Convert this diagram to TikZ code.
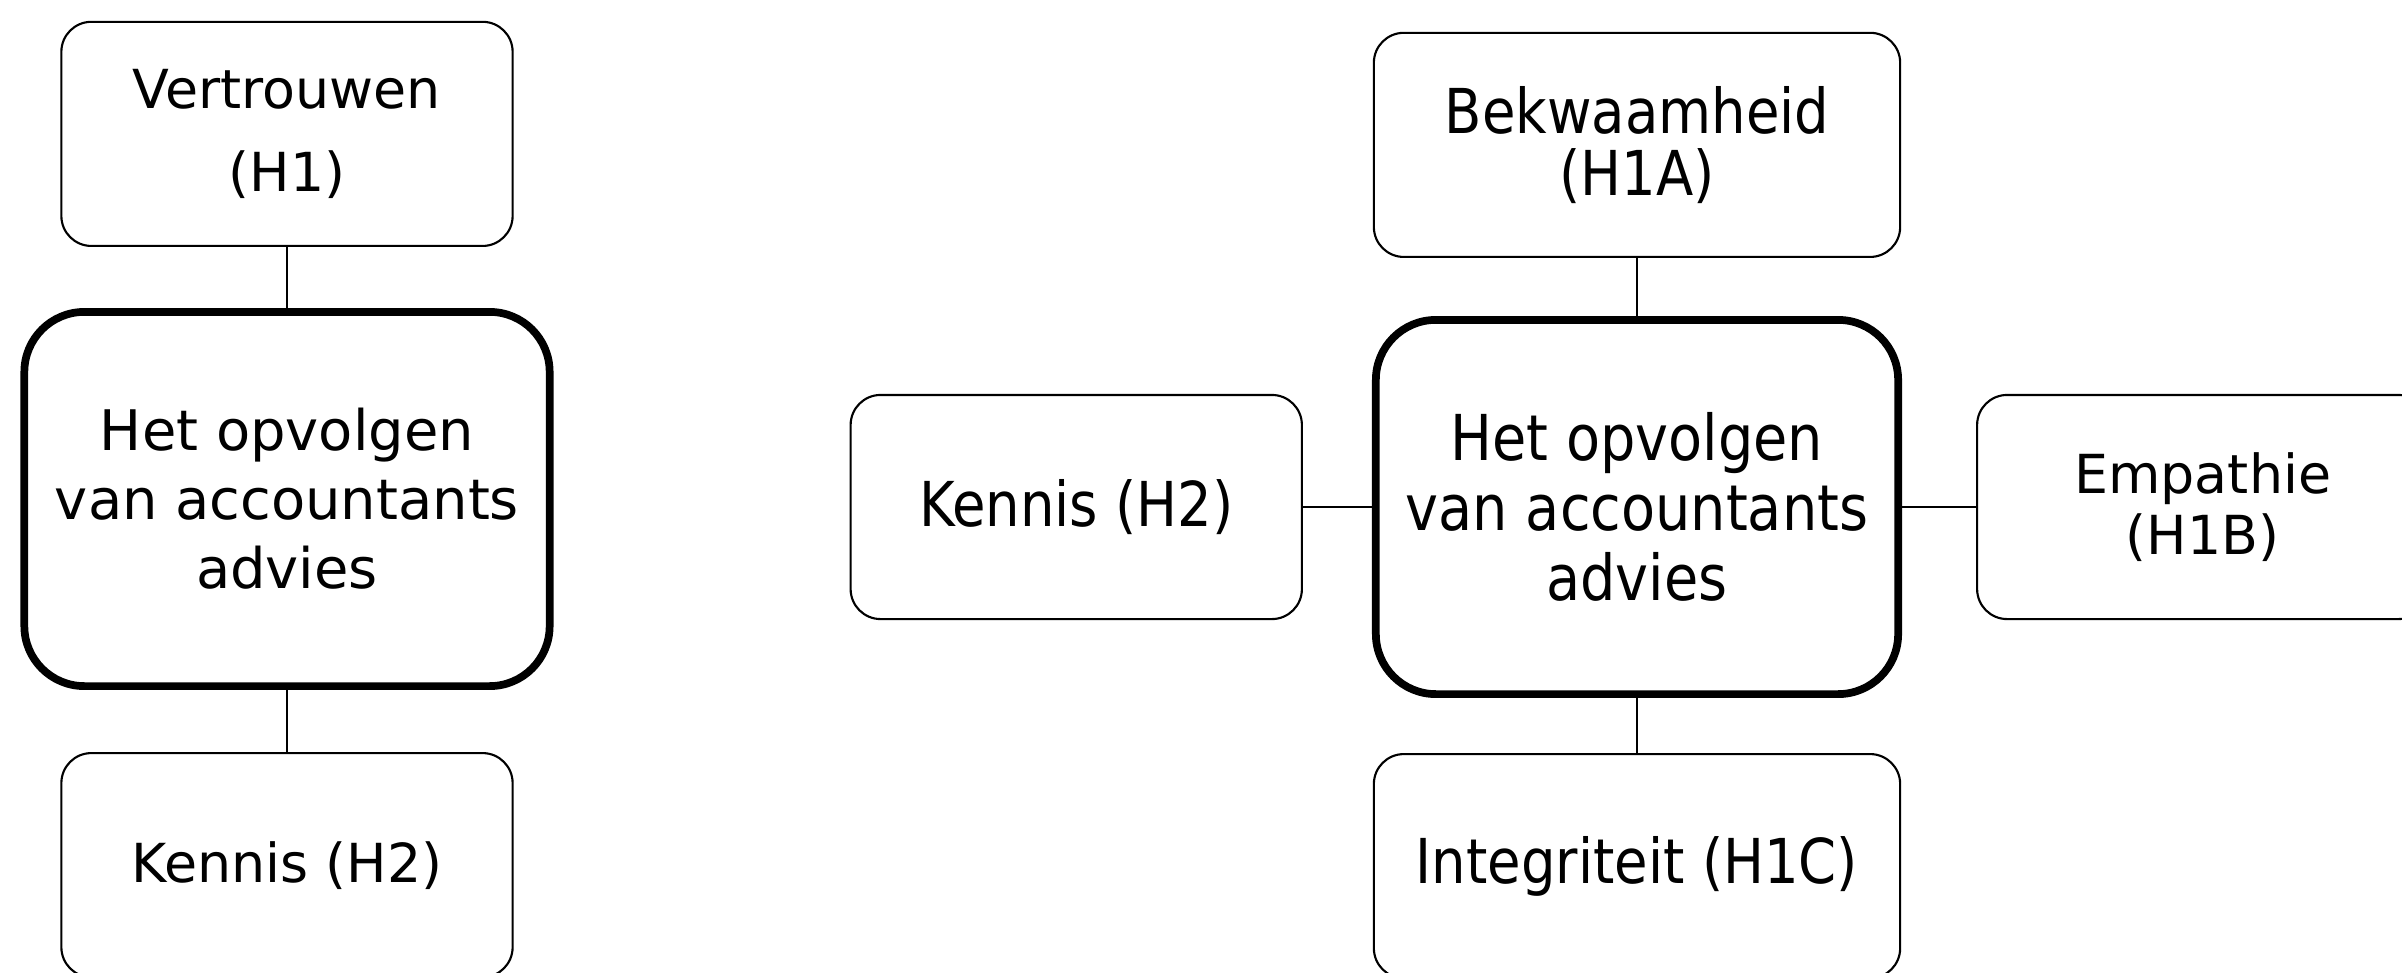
\documentclass[tikz,border=0pt]{standalone}
\usepackage{fontspec}
\setmainfont{DejaVu Sans}
\newfontfamily\condfont[FakeStretch=0.88]{DejaVu Sans}
\usetikzlibrary{positioning}

\begin{document}
\begin{tikzpicture}[
  x=0.01cm, y=-0.01cm,
  hyp/.style={rectangle, draw, rounded corners=3mm, line width=0.6pt,
              align=center, minimum width=4.51cm, minimum height=2.24cm,
              font=\fontsize{15.3}{17.4}\selectfont},
  hypc/.style={hyp, minimum width=5.26cm,
               font=\condfont\fontsize{17.6}{17.6}\selectfont},
  core/.style={rectangle, draw, rounded corners=6mm, line width=2.2pt,
               align=center, minimum width=5.25cm, minimum height=3.74cm,
               font=\fontsize{15.9}{19.6}\selectfont},
  corec/.style={core, minimum width=5.22cm,
                font=\condfont\fontsize{18}{20}\selectfont},
  link/.style={draw, line width=0.6pt},
  node distance=0.6cm
]
\path[use as bounding box, clip] (0,0) rectangle (2402,972);
% left model
\node[core] (mainL) at (287,499) {Het opvolgen\\van accountants\\advies};
\node[hyp, above=0.61cm of mainL] (trust) {Vertrouwen\\[6.2pt](H1)};
\node[hyp, below=0.62cm of mainL] (knowL) {Kennis (H2)};
\draw[link] (trust) -- (mainL);
\draw[link] (mainL) -- (knowL);
% right model
\node[corec] (mainR) at (1637,507) {Het opvolgen\\van accountants\\advies};
\node[hypc, above=0.58cm of mainR] (ability) {Bekwaamheid\\(H1A)};
\node[hypc, below=0.55cm of mainR] (integrity) {Integriteit (H1C)};
\node[hypc, minimum width=4.51cm, left=0.69cm of mainR] (knowR) {Kennis (H2)};
\node[hyp, right=0.74cm of mainR] (empathy) {Empathie\\(H1B)};
\draw[link] (ability) -- (mainR);
\draw[link] (mainR) -- (integrity);
\draw[link] (knowR) -- (mainR);
\draw[link] (mainR) -- (empathy);
\end{tikzpicture}
\end{document}
